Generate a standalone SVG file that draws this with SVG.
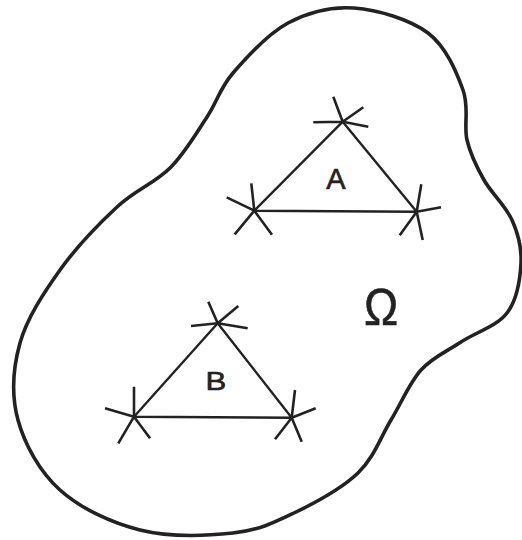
<svg xmlns="http://www.w3.org/2000/svg" width="522" height="540" viewBox="0 0 522 540">
<style>
.outline{fill:none;stroke:#222;stroke-width:3.6;stroke-linejoin:round}
.tri{fill:none;stroke:#222;stroke-width:2.4;stroke-linejoin:round}
.spk{fill:none;stroke:#222;stroke-width:2.6;stroke-linecap:butt}
.lbl{font-family:"Liberation Sans",Arial,sans-serif;fill:#222;stroke:#222;stroke-width:0.6;text-anchor:middle}
</style>
<rect width="522" height="540" fill="#fff"/>
<g id="domain">
<path class="outline" d="M354,8 C377.3,9.7 409.8,19.3 428,33 C446.2,46.7 456.5,72.2 463,90 C469.5,107.8 463.5,125 467,140 C470.5,155 476.5,166.7 484,180 C491.5,193.3 505.8,206.2 512,220 C518.2,233.8 521.8,247.5 521,263 C520.2,278.5 517,299.8 507,313 C497,326.2 475.3,332.5 461,342 C446.7,351.5 432.7,357 421,370 C409.3,383 401.5,402.8 391,420 C380.5,437.2 374.2,457.5 358,473 C341.8,488.5 314.8,503 294,513 C273.2,523 258.7,530.2 233,533 C207.3,535.8 168.8,537.2 140,530 C111.2,522.8 80.3,508.3 60,490 C39.7,471.7 24.7,444.5 18,420 C11.3,395.5 13,368 20,343 C27,318 43.8,292.7 60,270 C76.2,247.3 98.7,224 117,207 C135.3,190 155,183 170,168 C185,153 196.5,132.8 207,117 C217.5,101.2 219.5,88.7 233,73 C246.5,57.3 267.8,33.8 288,23 C308.2,12.2 330.7,6.3 354,8 Z"/>
<text class="lbl" x="0" y="0" font-size="52" transform="translate(381,325) scale(0.88,1)">Ω</text>
</g>
<g id="triangleA">
<polygon class="tri" points="342.7,121.7 254.3,210.7 416.7,211.7"/>
<path class="spk" d="M342.7,121.7 L333.3,96.7 M342.7,121.7 L363.3,107.3 M342.7,121.7 L368.3,126.7 M342.7,121.7 L313.3,122.3"/>
<path class="spk" d="M254.3,210.7 L251.3,183.3 M254.3,210.7 L226.7,197.3 M254.3,210.7 L234.7,234.3 M254.3,210.7 L272,234.7"/>
<path class="spk" d="M416.7,211.7 L421.3,184.3 M416.7,211.7 L441,207.3 M416.7,211.7 L422.7,240 M416.7,211.7 L399.7,235.3"/>
<text class="lbl" x="336" y="189" font-size="29">A</text>
</g>
<g id="triangleB">
<polygon class="tri" points="217.7,323.3 134,416.7 291.7,417.7"/>
<path class="spk" d="M217.7,323.3 L208.3,301.7 M217.7,323.3 L238.3,306 M217.7,323.3 L247.7,328.3 M217.7,323.3 L191,326"/>
<path class="spk" d="M134,416.7 L134,386.7 M134,416.7 L105,408.3 M134,416.7 L118.3,443.3 M134,416.7 L150,438.3"/>
<path class="spk" d="M291.7,417.7 L295,390 M291.7,417.7 L315.7,408.3 M291.7,417.7 L301.7,441.7 M291.7,417.7 L275,439.3"/>
<text class="lbl" x="0" y="0" font-size="26" transform="translate(216,390) scale(1.2,1)">B</text>
</g>
</svg>
